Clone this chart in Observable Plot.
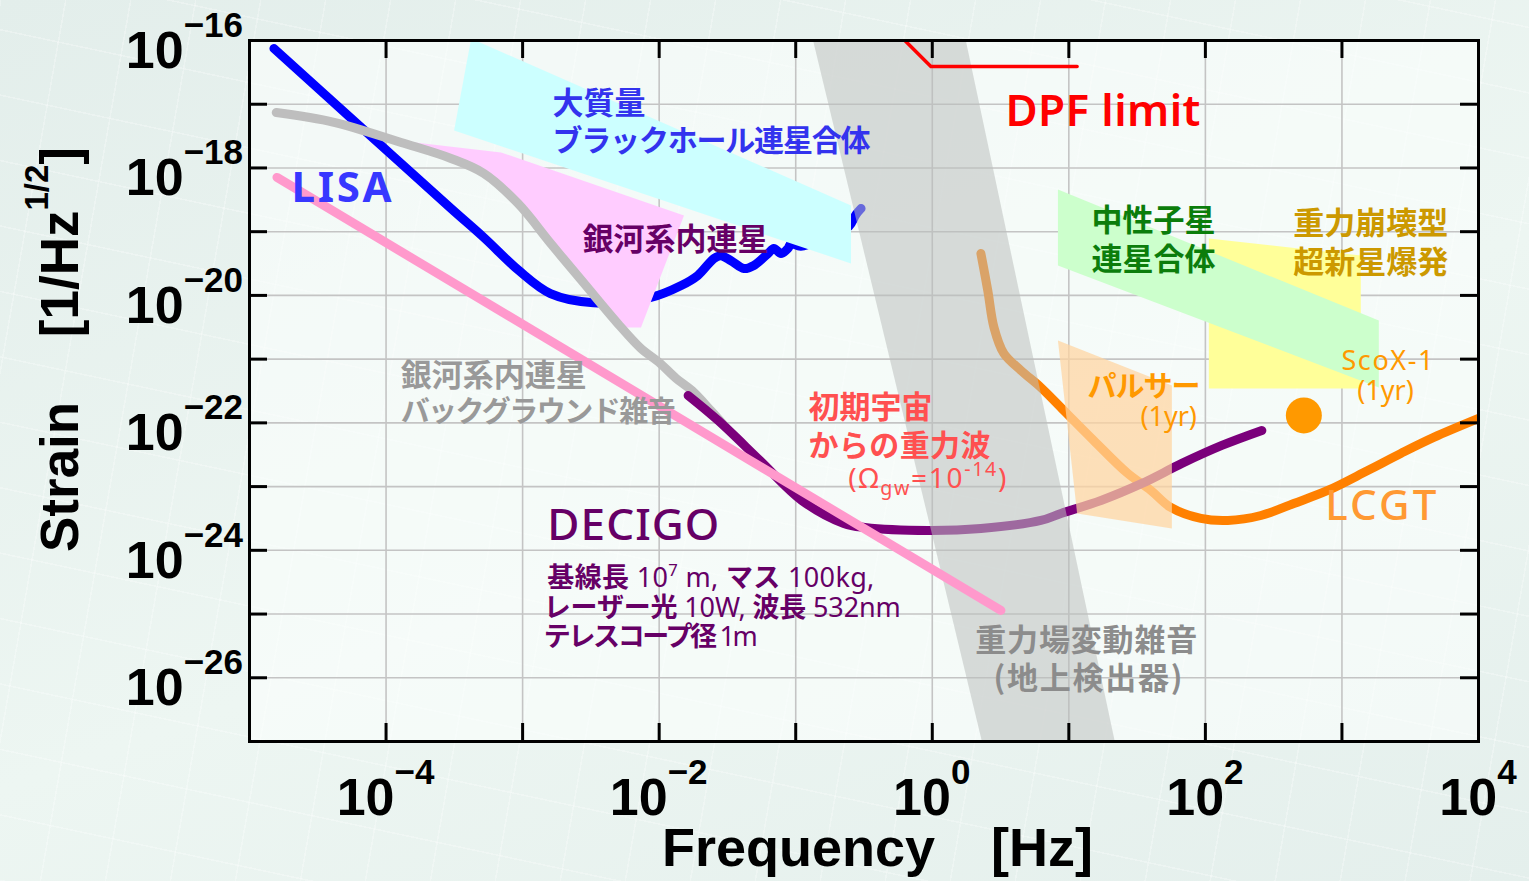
<!DOCTYPE html>
<html><head><meta charset="utf-8">
<script src="https://cdn.jsdelivr.net/npm/d3@7"></script>
<script src="https://cdn.jsdelivr.net/npm/@observablehq/plot@0.6"></script>
<style>
html,body{margin:0;padding:0;width:1529px;height:881px;overflow:hidden;}
body{background:
 repeating-linear-gradient(100deg, rgba(255,255,255,0.28) 0 1.5px, transparent 1.5px 64px),
 repeating-linear-gradient(12deg, rgba(255,255,255,0.28) 0 1.5px, transparent 1.5px 64px),
 linear-gradient(160deg,#e3eeeb 0%,#edf6f2 55%,#e4efec 100%);}
svg{display:block}
</style></head><body>
<div id="chart"></div>
<script>
// ---- tick labels / decades ----
const xTickExponents = [-4, -2, 0, 2, 4];
const yTickExponents = [-16, -18, -20, -22, -24, -26];
const xDecades = [1e-4, 1e-3, 1e-2, 1e-1, 1, 10, 100, 1000];
const yDecades = [1e-17, 1e-18, 1e-19, 1e-20, 1e-21, 1e-22, 1e-23, 1e-24, 1e-25, 1e-26];

// ---- curves [frequency Hz, strain] ----
const lisa = [
 [1.51e-5, 7.5e-17], [6.6e-5, 4.3e-18], [3.0e-4, 2.3e-19], [5.2e-4, 8.1e-20],
 [9.3e-4, 2.5e-20], [1.6e-3, 1.07e-20], [3.3e-3, 7.7e-21], [8.7e-3, 9.3e-21],
 [1.45e-2, 1.43e-20], [1.92e-2, 2.06e-20], [2.52e-2, 3.8e-20], [2.83e-2, 4.2e-20],
 [3.36e-2, 3.5e-20], [4.18e-2, 2.64e-20], [4.94e-2, 2.95e-20], [6.27e-2, 4.55e-20],
 [6.92e-2, 5.45e-20], [7.8e-2, 4.55e-20], [8.77e-2, 5.45e-20], [9.22e-2, 6.5e-20],
 [0.109, 5.9e-20], [0.166, 8.1e-20], [0.245, 1.21e-19], [0.276, 1.86e-19], [0.301, 2.31e-19]
];
const galacticBackground = [
 [1.57e-5, 7.4e-18], [4.16e-5, 5.2e-18], [1.29e-4, 2.51e-18], [2.99e-4, 1.41e-18],
 [5.21e-4, 8.2e-19], [9.25e-4, 2.77e-19], [1.61e-3, 6.5e-20], [2.82e-3, 1.54e-20],
 [4.99e-3, 3.6e-21], [7.36e-3, 1.47e-21], [9.98e-3, 8.9e-22], [1.33e-2, 5.0e-22],
 [1.74e-2, 3.2e-22], [2.39e-2, 1.56e-22], [3.08e-2, 8.5e-23]
];
const earlyUniverse = [[1.59e-5, 7.1e-19], [3.18, 1.14e-25]];
const decigo = [
 [1.63e-2, 2.69e-22], [2.70e-2, 1.09e-22], [5.47e-2, 2.57e-23], [0.111, 6.05e-24],
 [0.225, 2.64e-24], [0.321, 2.28e-24], [0.929, 2.05e-24], [2.27, 2.20e-24],
 [6.24, 2.94e-24], [8.75, 3.79e-24], [17.2, 6.05e-24], [34.3, 1.12e-23],
 [67.3, 2.31e-23], [132, 4.42e-23], [259, 7.59e-23]
];
const lcgt = [
 [2.27, 4.55e-20], [2.55, 1.19e-20], [2.83, 3.14e-21], [3.34, 1.23e-21],
 [4.46, 6.64e-22], [6.24, 3.59e-22], [9.20, 1.56e-22], [15.2, 5.30e-23],
 [27.0, 1.61e-23], [39.9, 8.69e-24], [55.8, 4.70e-24], [92.7, 3.16e-24],
 [146, 2.94e-24], [255, 3.52e-24], [444, 5.43e-24], [787, 8.69e-24],
 [1545, 1.79e-23], [2698, 3.31e-23], [4699, 5.90e-23], [10000, 1.17e-22]
];
const dpfLimit = [[0.63, 1e-16], [0.977, 3.9e-17], [11.5, 3.9e-17]];
const scoX1 = [[526, 1.31e-22]];

// ---- source regions (polygons) ----
const massiveBH = [[4.2e-4, 1.07e-16], [0.254, 2.58e-19], [0.254, 3.17e-20], [3.15e-4, 3.87e-18]];
const galacticBinaries = [
 [1.22e-4, 2.70e-18], [6.95e-4, 1.75e-18], [1.52e-2, 1.79e-19], [7.36e-3, 3.14e-21],
 [5.52e-3, 3.14e-21], [3.75e-3, 6.95e-21], [2.82e-3, 1.54e-20], [1.61e-3, 6.5e-20],
 [9.25e-4, 2.77e-19], [5.21e-4, 8.2e-19], [2.99e-4, 1.41e-18], [1.29e-4, 2.51e-18]
];
const nsBinaries = [[8.32, 4.59e-19], [1862, 4.04e-21], [1862, 3.59e-22], [8.32, 2.95e-20]];
const supernovae = [[106, 7.82e-20], [1374, 4.23e-20], [1374, 3.47e-22], [106, 3.47e-22]];
const pulsars = [[8.32, 1.96e-21], [56.8, 3.86e-22], [56.8, 2.2e-24], [11.5, 3.79e-24]];
const gravityGradient = [[0.134, 1e-16], [1.76, 1e-16], [21.7, 1e-27], [2.31, 1e-27]];

// ---- annotations (anchor in data units) ----
const annotations = [
 {f:1.67e-3, h:1.16e-17, parts:[["大質量","j"]], color:"#3333ee", size:31},
 {f:1.67e-3, h:2.95e-18, parts:[["ブラックホール連星合体","j"]], color:"#3333ee", size:30, w:318},
 {f:2.05e-5, h:2.87e-19, parts:[["LISA","l"]], color:"#3737ff", size:42, weight:700, base:"alphabetic", w:100},
 {f:2.77e-3, h:8.41e-20, parts:[["銀河系内連星","j"]], color:"#660066", size:31},
 {f:3.46, h:4.48e-18, parts:[["DPF limit","l"]], color:"#ff0000", size:44, weight:600, base:"alphabetic", w:195},
 {f:14.8, h:1.64e-19, parts:[["中性子星","j"]], color:"#0b7d0b", size:31},
 {f:14.8, h:4.01e-20, parts:[["連星合体","j"]], color:"#0b7d0b", size:31},
 {f:444, h:1.50e-19, parts:[["重力崩壊型","j"]], color:"#cc9900", size:31},
 {f:444, h:3.72e-20, parts:[["超新星爆発","j"]], color:"#cc9900", size:31},
 {f:1000, h:6.64e-22, parts:[["ScoX-1","l"]], color:"#ff9900", size:27, base:"alphabetic", w:92},
 {f:1306, h:2.24e-22, parts:[["(1yr)","l"]], color:"#ff9900", size:27, base:"alphabetic"},
 {f:13.8, h:4.07e-22, parts:[["パルサー","j"]], color:"#ff9900", size:29, w:113},
 {f:33.7, h:8.77e-23, parts:[["(1yr)","l"]], color:"#ff9900", size:27, base:"alphabetic"},
 {f:1.29e-4, h:6.07e-22, parts:[["銀河系内連星","j"]], color:"#999999", size:31},
 {f:1.29e-4, h:1.62e-22, parts:[["バックグラウンド雑音","j"]], color:"#999999", size:29, w:275},
 {f:0.125, h:1.94e-22, parts:[["初期宇宙","j"]], color:"#ff5050", size:31},
 {f:0.125, h:4.83e-23, parts:[["からの重力波","j"]], color:"#ff5050", size:30, w:182},
 {f:0.245, h:9.33e-24, parts:[["(Ω","l"],["gw","sub"],["=10","l"],["-14","sup"],[")","l"]], color:"#ff5050", size:28, supScale:0.7, base:"alphabetic", w:158},
 {f:1.53e-3, h:1.43e-24, parts:[["DECIGO","l"]], color:"#660066", size:44, weight:500, base:"alphabetic", w:172},
 {f:1.53e-3, h:2.61e-25, parts:[["基線長","j"],[" 10","l"],["7","sup"],[" m, ","l"],["マス","j"],[" 100kg,","l"]], color:"#660066", size:27, base:"alphabetic", w:327},
 {f:1.44e-3, h:8.83e-26, parts:[["レーザー光","j"],[" 10W, ","l"],["波長","j"],[" 532nm","l"]], color:"#660066", size:27, base:"alphabetic", w:357},
 {f:1.44e-3, h:3.10e-26, parts:[["テレスコープ径","j"],[" 1m","l"]], color:"#660066", size:27, base:"alphabetic", w:214},
 {f:762, h:2.94e-24, parts:[["LCGT","l"]], color:"#ff9933", size:42, weight:500, base:"alphabetic", w:111},
 {f:2.08, h:4.22e-26, parts:[["重力場変動雑音","j"]], color:"#8c8c8c", size:31, w:222},
 {f:2.83, h:1.09e-26, parts:[["(地上検出器)","j"]], color:"#8c8c8c", size:31, w:189}
];

const CJK = "'Noto Sans CJK JP','Noto Sans CJK SC',sans-serif";
const LAT = "'Noto Sans','DejaVu Sans',sans-serif";
const AX = "'Liberation Sans',Arial,Helvetica,sans-serif";

const W = 1529, H = 881, ML = 249, MR = 51, MT = 40, MB = 140;
const FW = W - ML - MR, FH = H - MT - MB;

const poly = (data, fill, opacity = 1) =>
  Plot.line(data, {fill, fillOpacity: opacity, stroke: "none", curve: "linear-closed", clip: true});
const curve = (data, stroke, width, c = "catmull-rom") =>
  Plot.line(data, {stroke, strokeWidth: width, curve: c, strokeLinecap: "round", strokeLinejoin: "round", clip: true});

const chart = Plot.plot({
  width: W, height: H,
  marginLeft: ML, marginRight: MR, marginTop: MT, marginBottom: MB,
  style: {background: "transparent", overflow: "visible"},
  x: {type: "log", domain: [1e-5, 1e4], axis: null},
  y: {type: "log", domain: [1e-27, 1e-16], axis: null},
  marks: [
    Plot.frame({fill: "#fcfffd", fillOpacity: 0.6, stroke: "none"}),
    Plot.ruleX(xDecades, {x: d => d, stroke: "#c4c4c4", strokeWidth: 1.6}),
    Plot.ruleY(yDecades, {y: d => d, stroke: "#c4c4c4", strokeWidth: 1.6}),
    curve(lisa, "#0000ff", 9),
    poly(galacticBinaries, "#ffccff"),
    curve(galacticBackground, "#bebebe", 9),
    poly(massiveBH, "#ccffff"),
    poly(supernovae, "#ffff99"),
    poly(nsBinaries, "#ccffcc"),
    curve(lcgt, "#ff8000", 9),
    curve(decigo, "#7b007b", 9),
    poly(gravityGradient, "#bcc0be", 0.55),
    poly(pulsars, "#ffd4a0", 0.72),
    curve(earlyUniverse, "#ff99cc", 9, "linear"),
    curve(dpfLimit, "#ff0000", 3.5, "linear"),
    Plot.dot(scoX1, {r: 18, fill: "#ff9900", stroke: "none"}),
    Plot.ruleX(xDecades, {x: d => d, stroke: "black", strokeWidth: 3, insetTop: FH - 18}),
    Plot.ruleX(xDecades, {x: d => d, stroke: "black", strokeWidth: 3, insetBottom: FH - 18}),
    Plot.ruleY(yDecades, {y: d => d, stroke: "black", strokeWidth: 3, insetRight: FW - 18}),
    Plot.ruleY(yDecades, {y: d => d, stroke: "black", strokeWidth: 3, insetLeft: FW - 18}),
    Plot.frame({stroke: "black", strokeWidth: 3})
  ]
});
document.getElementById("chart").append(chart);

const sx = chart.scale("x"), sy = chart.scale("y");
const svg = d3.select(chart);
const g = svg.append("g");

function drawParts(x, y, parts, o) {
  const t = g.append("text").attr("x", x).attr("y", y)
    .attr("fill", o.color || "black").attr("font-size", o.size)
    .attr("text-anchor", o.anchor || "start")
    .attr("dominant-baseline", o.base || "central");
  if (o.transform) t.attr("transform", o.transform);
  let shift = 0;
  for (const [str, kind] of parts) {
    const s = t.append("tspan").text(str);
    const target = kind === "sup" ? -o.size * (o.supShift || 0.42) : kind === "sub" ? o.size * 0.25 : 0;
    if (target !== shift) { s.attr("dy", target - shift); shift = target; }
    if (kind === "sup" || kind === "sub") s.attr("font-size", o.size * (o.supScale || 0.62));
    const fam = o.family || (kind === "j" ? CJK : LAT);
    s.attr("font-family", fam).attr("font-weight", kind === "j" ? 700 : (o.weight || 400));
  }
  if (o.w) t.attr("textLength", o.w).attr("lengthAdjust", "spacing");
  return t;
}

for (const a of annotations) {
  drawParts(sx.apply(a.f), sy.apply(a.h), a.parts, a);
}

// tick labels
const minus = e => (e < 0 ? "\u2212" : "") + Math.abs(e);
for (const e of yTickExponents) {
  drawParts(ML - 6, sy.apply(10 ** e) + 28, [["10", "l"], [minus(e), "sup"]],
    {size: 52, anchor: "end", base: "alphabetic", weight: 700, family: AX, supShift: 31 / 52, supScale: 35 / 52});
}
for (const e of xTickExponents) {
  drawParts(sx.apply(10 ** e), H - MB + 74, [["10", "l"], [minus(e), "sup"]],
    {size: 52, anchor: "middle", base: "alphabetic", weight: 700, family: AX, supShift: 31 / 52, supScale: 35 / 52});
}

// axis titles
drawParts(662, 866, [["Frequency", "l"]], {size: 54, base: "alphabetic", weight: 700, family: AX});
drawParts(1093, 866, [["[Hz]", "l"]], {size: 54, anchor: "end", base: "alphabetic", weight: 700, family: AX});
drawParts(0, 0, [["Strain", "l"]], {size: 53, base: "alphabetic", weight: 700, family: AX, transform: "translate(78,552) rotate(-90)"});
const yt = g.append("text").attr("transform", "translate(78,147) rotate(-90)")
  .attr("text-anchor", "end").attr("font-family", AX).attr("font-weight", 700)
  .attr("font-size", 53).attr("fill", "black");
yt.append("tspan").text("[1/Hz");
yt.append("tspan").attr("dy", -30).attr("font-size", 33).text("1/2");
yt.append("tspan").attr("dy", 30).text("]");
</script>
</body></html>
